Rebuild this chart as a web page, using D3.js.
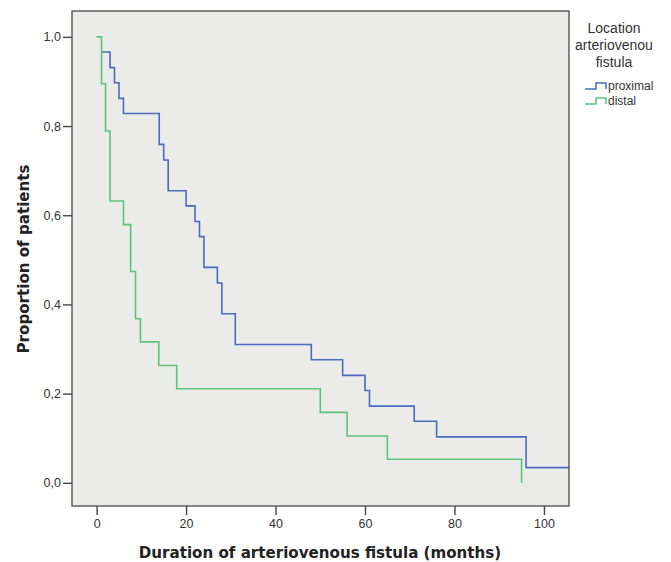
<!DOCTYPE html>
<html>
<head>
<meta charset="utf-8">
<script src="https://cdn.jsdelivr.net/npm/d3@7"></script>
<style>
  body { margin: 0; background: #fff; }
  text { font-family: "Liberation Sans", Arial, sans-serif; }
</style>
</head>
<body>
<svg id="chart" width="671" height="562"></svg>
<script>
// step points: [time, survival proportion]
var proximalTimes = [1.1, 3, 4, 5, 6, 14, 15, 16, 20, 22, 23, 24, 27, 28, 31, 48, 55, 60, 61, 71, 76, 96, 106];
var proximalValues = [0.966, 0.931, 0.897, 0.862, 0.828, 0.759, 0.724, 0.655, 0.621, 0.586, 0.552, 0.483, 0.448, 0.379, 0.310, 0.276, 0.241, 0.207, 0.172, 0.138, 0.103, 0.034, 0.034];
var distalTimes = [0, 1.1, 2, 3, 6, 7.6, 8.7, 9.8, 13.9, 17.9, 50, 56, 65, 95];
var distalValues = [1.0, 0.895, 0.789, 0.632, 0.579, 0.474, 0.368, 0.316, 0.263, 0.211, 0.158, 0.105, 0.053, 0.0];
var xTicks = [0, 20, 40, 60, 80, 100];
var yTicks = [0, 0.2, 0.4, 0.6, 0.8, 1.0];
var seriesNames = ["proximal", "distal"];
var seriesColors = ["#4a6bbf", "#5cc47a"];

var svg = d3.select("#chart");
var plotL = 72, plotR = 569, plotT = 11, plotB = 506;

var x = d3.scaleLinear().domain([-5.5, 105.6]).range([plotL, plotR]);
var y = d3.scaleLinear().domain([-0.052, 1.058]).range([plotB, plotT]);

svg.append("rect")
    .attr("x", plotL).attr("y", plotT)
    .attr("width", plotR - plotL).attr("height", plotB - plotT)
    .attr("fill", "#ebebea");

svg.append("clipPath").attr("id", "clip")
    .append("rect")
    .attr("x", plotL).attr("y", plotT)
    .attr("width", plotR - plotL).attr("height", plotB - plotT);

var line = d3.line()
    .x(function(d) { return x(d[0]); })
    .y(function(d) { return y(d[1]); })
    .curve(d3.curveStepAfter);

var series = [
    d3.zip(proximalTimes, proximalValues),
    d3.zip(distalTimes, distalValues)
];

svg.append("g").attr("clip-path", "url(#clip)")
    .selectAll("path")
    .data(series)
    .join("path")
    .attr("d", line)
    .attr("fill", "none")
    .attr("stroke", function(d, i) { return seriesColors[i]; })
    .attr("stroke-width", 1.6);

svg.append("rect")
    .attr("x", plotL).attr("y", plotT)
    .attr("width", plotR - plotL).attr("height", plotB - plotT)
    .attr("fill", "none")
    .attr("stroke", "#555")
    .attr("stroke-width", 1.4);

var xAxis = svg.append("g")
    .attr("transform", "translate(0," + plotB + ")")
    .call(d3.axisBottom(x).tickValues(xTicks).tickSize(9).tickPadding(4)
        .tickFormat(d3.format("d")));
var yAxis = svg.append("g")
    .attr("transform", "translate(" + plotL + ",0)")
    .call(d3.axisLeft(y).tickValues(yTicks).tickSize(9).tickPadding(2)
        .tickFormat(function(d) { return d.toFixed(1).replace(".", ","); }));

[xAxis, yAxis].forEach(function(g) {
    g.select(".domain").remove();
    g.selectAll("line").attr("stroke", "#444").attr("stroke-width", 1.4);
    g.selectAll("text").attr("fill", "#333").style("font-size", "12.5px")
        .style("font-family", "'Liberation Sans', Arial, sans-serif");
});

svg.append("text")
    .attr("x", 320).attr("y", 558)
    .attr("text-anchor", "middle")
    .style("font-family", "'DejaVu Sans', sans-serif")
    .style("font-size", "15.1px").style("font-weight", "bold")
    .attr("fill", "#222")
    .text("Duration of arteriovenous fistula (months)");

svg.append("text")
    .attr("transform", "translate(29,259) rotate(-90)")
    .attr("text-anchor", "middle")
    .style("font-family", "'DejaVu Sans', sans-serif")
    .style("font-size", "15.1px").style("font-weight", "bold")
    .attr("fill", "#222")
    .text("Proportion of patients");

// legend
var legendTitle = ["Location", "arteriovenou", "fistula"];
svg.selectAll(".ltitle")
    .data(legendTitle)
    .join("text")
    .attr("class", "ltitle")
    .attr("x", 614)
    .attr("y", function(d, i) { return 33 + i * 17; })
    .attr("text-anchor", "middle")
    .style("font-size", "14px")
    .attr("fill", "#333")
    .text(function(d) { return d; });

var legend = svg.selectAll(".litem")
    .data(seriesNames)
    .join("g")
    .attr("class", "litem")
    .attr("transform", function(d, i) { return "translate(585," + (89 + i * 15) + ")"; });

legend.append("path")
    .attr("d", "M0,0 H11 V-6 H21 V0")
    .attr("fill", "none")
    .attr("stroke", function(d, i) { return seriesColors[i]; })
    .attr("stroke-width", 1.5);

legend.append("text")
    .attr("x", 23).attr("y", 1)
    .style("font-size", "12px")
    .attr("fill", "#333")
    .text(function(d) { return d; });
</script>
</body>
</html>
